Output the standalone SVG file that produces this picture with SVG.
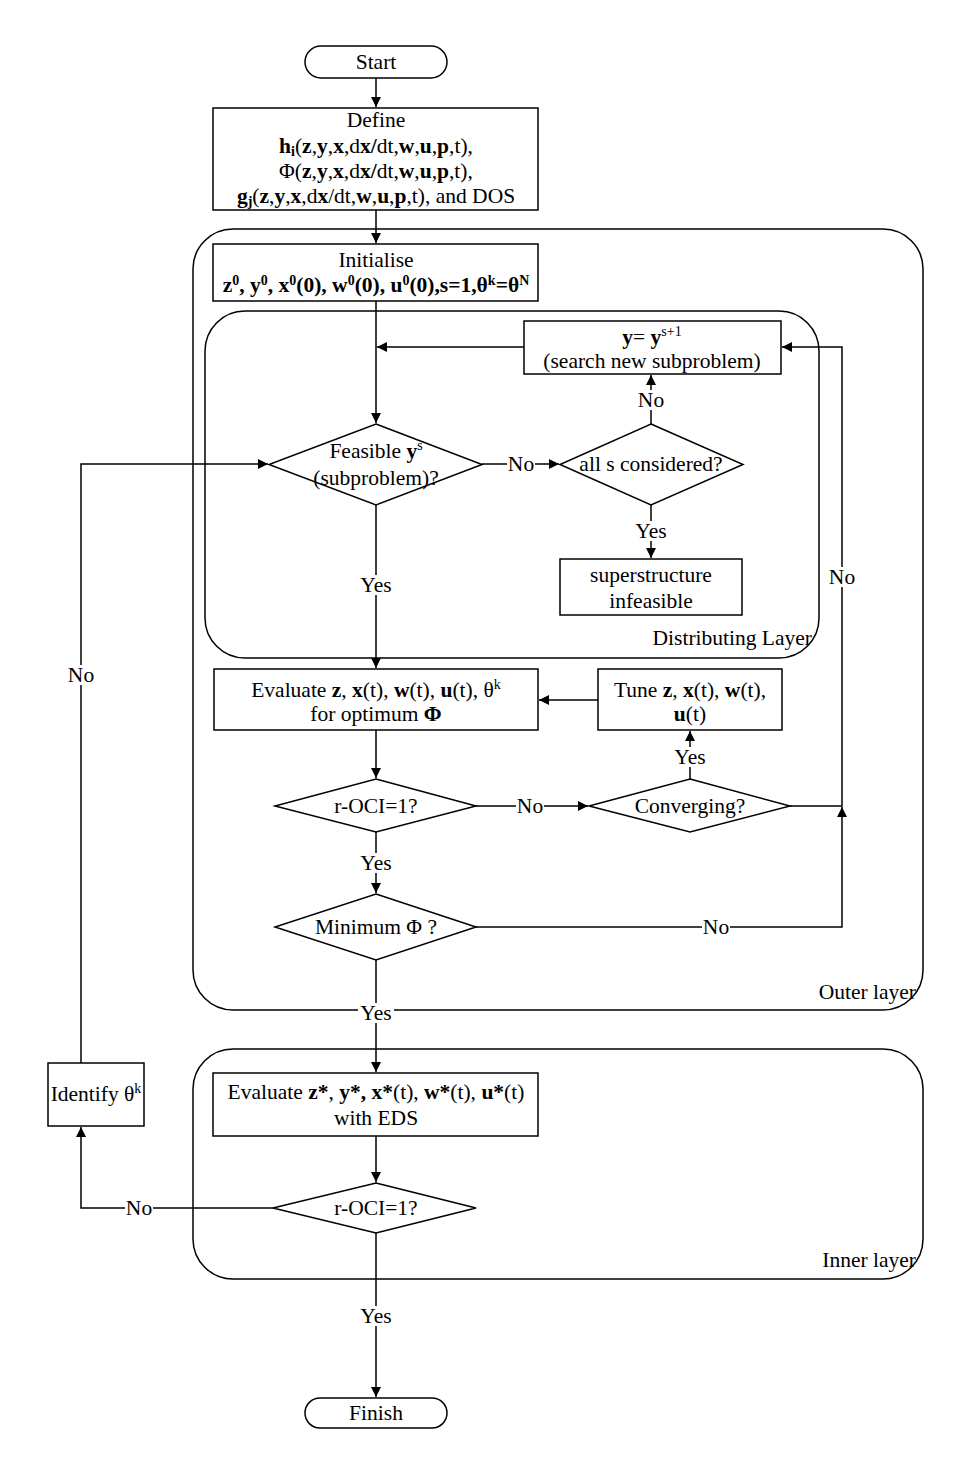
<svg xmlns="http://www.w3.org/2000/svg" width="958" height="1468" viewBox="0 0 958 1468">
<defs>
<style>
text{font-family:"Liberation Serif","Times New Roman",serif;font-size:21.5px;fill:#000;text-anchor:middle}
.b{font-weight:bold}
.sup{font-size:14px}
.box{fill:#fff;stroke:#000;stroke-width:1.5}
.layer{fill:none;stroke:#000;stroke-width:1.5}
.c{fill:none;stroke:#000;stroke-width:1.5}
.bg{fill:#fff}
.lbl{text-anchor:end}
</style>
<marker id="ah" viewBox="0 0 10 10" refX="10" refY="5" markerWidth="10" markerHeight="10" markerUnits="userSpaceOnUse" orient="auto">
<path d="M0,0 L10,5 L0,10 z" fill="#000"/>
</marker>
</defs>
<rect width="958" height="1468" fill="#fff"/>

<g id="outer-layer">
<rect class="layer" x="193" y="229" width="730" height="781" rx="40"/>
<text class="lbl" x="916" y="999">Outer layer</text>
</g>
<g id="distributing-layer">
<rect class="layer" x="205" y="311" width="614" height="347" rx="40"/>
<text class="lbl" x="812" y="645">Distributing  Layer</text>
</g>
<g id="inner-layer">
<rect class="layer" x="193" y="1049" width="730" height="230" rx="40"/>
<text class="lbl" x="916" y="1267">Inner layer</text>
</g>

<g id="connectors">
<path class="c" d="M376,78 V107" marker-end="url(#ah)"/>
<path class="c" d="M376,210 V243" marker-end="url(#ah)"/>
<path class="c" d="M376,301 V423" marker-end="url(#ah)"/>
<path class="c" d="M524,347 H377" marker-end="url(#ah)"/>
<path class="c" d="M482,464 H559" marker-end="url(#ah)"/>
<path class="c" d="M651,424 V375" marker-end="url(#ah)"/>
<path class="c" d="M651,505 V558" marker-end="url(#ah)"/>
<path class="c" d="M376,505 V668" marker-end="url(#ah)"/>
<path class="c" d="M598,700 H539" marker-end="url(#ah)"/>
<path class="c" d="M376,730 V778" marker-end="url(#ah)"/>
<path class="c" d="M476,806 H588" marker-end="url(#ah)"/>
<path class="c" d="M690,779 V731" marker-end="url(#ah)"/>
<path class="c" d="M790,806 H842 V347 H782" marker-end="url(#ah)"/>
<path class="c" d="M376,832 V893" marker-end="url(#ah)"/>
<path class="c" d="M476,927 H842 V807" marker-end="url(#ah)"/>
<path class="c" d="M376,960 V1072" marker-end="url(#ah)"/>
<path class="c" d="M376,1136 V1182" marker-end="url(#ah)"/>
<path class="c" d="M273,1208 H81 V1127" marker-end="url(#ah)"/>
<path class="c" d="M81,1063 V464 H268" marker-end="url(#ah)"/>
<path class="c" d="M376,1233 V1397" marker-end="url(#ah)"/>
<rect class="bg" x="507" y="454" width="28" height="20"/><text x="521" y="471">No</text>
<rect class="bg" x="637" y="390" width="28" height="20"/><text x="651" y="407">No</text>
<rect class="bg" x="633" y="521" width="36" height="20"/><text x="651" y="538">Yes</text>
<rect class="bg" x="358" y="575" width="36" height="20"/><text x="376" y="592">Yes</text>
<rect class="bg" x="516" y="796" width="28" height="20"/><text x="530" y="813">No</text>
<rect class="bg" x="672" y="747" width="36" height="20"/><text x="690" y="764">Yes</text>
<rect class="bg" x="828" y="567" width="28" height="20"/><text x="842" y="584">No</text>
<rect class="bg" x="358" y="853" width="36" height="20"/><text x="376" y="870">Yes</text>
<rect class="bg" x="702" y="917" width="28" height="20"/><text x="716" y="934">No</text>
<rect class="bg" x="358" y="1003" width="36" height="20"/><text x="376" y="1020">Yes</text>
<rect class="bg" x="125" y="1198" width="28" height="20"/><text x="139" y="1215">No</text>
<rect class="bg" x="67" y="665" width="28" height="20"/><text x="81" y="682">No</text>
<rect class="bg" x="358" y="1306" width="36" height="20"/><text x="376" y="1323">Yes</text>
</g>

<g id="start">
<rect class="box" x="305" y="46" width="142" height="32" rx="16"/>
<text x="376" y="69">Start</text>
</g>
<g id="define">
<rect class="box" x="213" y="108" width="325" height="102"/>
<text x="376" y="127">Define</text>
<text x="376" y="153"><tspan class="b">h</tspan><tspan class="b sup" dy="3">i</tspan><tspan dy="-3">(</tspan><tspan class="b">z</tspan>,<tspan class="b">y</tspan>,<tspan class="b">x</tspan>,d<tspan class="b">x/</tspan>dt,<tspan class="b">w</tspan>,<tspan class="b">u</tspan>,<tspan class="b">p</tspan>,t),</text>
<text x="376" y="178">Φ(<tspan class="b">z</tspan>,<tspan class="b">y</tspan>,<tspan class="b">x</tspan>,d<tspan class="b">x/</tspan>dt,<tspan class="b">w</tspan>,<tspan class="b">u</tspan>,<tspan class="b">p</tspan>,t),</text>
<text x="376" y="203"><tspan class="b">g</tspan><tspan class="b sup" dy="3">j</tspan><tspan dy="-3">(</tspan><tspan class="b">z</tspan>,<tspan class="b">y</tspan>,<tspan class="b">x</tspan>,d<tspan class="b">x</tspan>/dt,<tspan class="b">w</tspan>,<tspan class="b">u</tspan>,<tspan class="b">p</tspan>,t), and DOS</text>
</g>
<g id="initialise">
<rect class="box" x="213" y="244" width="325" height="57"/>
<text x="376" y="267">Initialise</text>
<text x="376" y="292" class="b">z<tspan class="sup" dy="-7">0</tspan><tspan dy="7">, y</tspan><tspan class="sup" dy="-7">0</tspan><tspan dy="7">, x</tspan><tspan class="sup" dy="-7">0</tspan><tspan dy="7">(0), w</tspan><tspan class="sup" dy="-7">0</tspan><tspan dy="7">(0), u</tspan><tspan class="sup" dy="-7">0</tspan><tspan dy="7">(0),s=1,θ</tspan><tspan class="sup" dy="-7">k</tspan><tspan dy="7">=θ</tspan><tspan class="sup" dy="-7">N</tspan></text>
</g>
<g id="search-subproblem">
<rect class="box" x="524" y="321" width="257" height="53"/>
<text x="652" y="344"><tspan class="b">y</tspan>= <tspan class="b">y</tspan><tspan class="sup" dy="-8">s+1</tspan></text>
<text x="652" y="368">(search new subproblem)</text>
</g>
<g id="feasible">
<polygon class="box" points="376,424 482,464.5 376,505 269,464.5"/>
<text x="376" y="458">Feasible <tspan class="b">y</tspan><tspan class="sup" dy="-8">s</tspan></text>
<text x="376" y="485">(subproblem)?</text>
</g>
<g id="all-s">
<polygon class="box" points="651,424 743,464.5 651,505 560,464.5"/>
<text x="651" y="471">all s considered?</text>
</g>
<g id="superstructure">
<rect class="box" x="560" y="559" width="182" height="56"/>
<text x="651" y="582">superstructure</text>
<text x="651" y="608">infeasible</text>
</g>
<g id="evaluate">
<rect class="box" x="214" y="669" width="324" height="61"/>
<text x="376" y="697">Evaluate <tspan class="b">z</tspan>, <tspan class="b">x</tspan>(t), <tspan class="b">w</tspan>(t), <tspan class="b">u</tspan>(t), θ<tspan class="sup" dy="-8">k</tspan></text>
<text x="376" y="721">for optimum <tspan class="b">Φ</tspan></text>
</g>
<g id="tune">
<rect class="box" x="598" y="669" width="184" height="61"/>
<text x="690" y="697">Tune <tspan class="b">z</tspan>, <tspan class="b">x</tspan>(t), <tspan class="b">w</tspan>(t),</text>
<text x="690" y="721"><tspan class="b">u</tspan>(t)</text>
</g>
<g id="r-oci-outer">
<polygon class="box" points="376,779 476,806 376,832 275,806"/>
<text x="376" y="813">r-OCI=1?</text>
</g>
<g id="converging">
<polygon class="box" points="690,779 790,806 690,832 589,806"/>
<text x="690" y="813">Converging?</text>
</g>
<g id="minimum">
<polygon class="box" points="376,894 476,927 376,960 275,927"/>
<text x="376" y="934">Minimum Φ ?</text>
</g>
<g id="evaluate-star">
<rect class="box" x="213" y="1073" width="325" height="63"/>
<text x="376" y="1099">Evaluate <tspan class="b">z*</tspan>, <tspan class="b">y*, x*</tspan>(t), <tspan class="b">w*</tspan>(t), <tspan class="b">u*</tspan>(t)</text>
<text x="376" y="1125">with EDS</text>
</g>
<g id="r-oci-inner">
<polygon class="box" points="376,1183 476,1208 376,1233 273,1208"/>
<text x="376" y="1215">r-OCI=1?</text>
</g>
<g id="identify">
<rect class="box" x="48" y="1063" width="96" height="63"/>
<text x="96" y="1101">Identify θ<tspan class="sup" dy="-8">k</tspan></text>
</g>
<g id="finish">
<rect class="box" x="305" y="1398" width="142" height="30" rx="15"/>
<text x="376" y="1420">Finish</text>
</g>
</svg>
